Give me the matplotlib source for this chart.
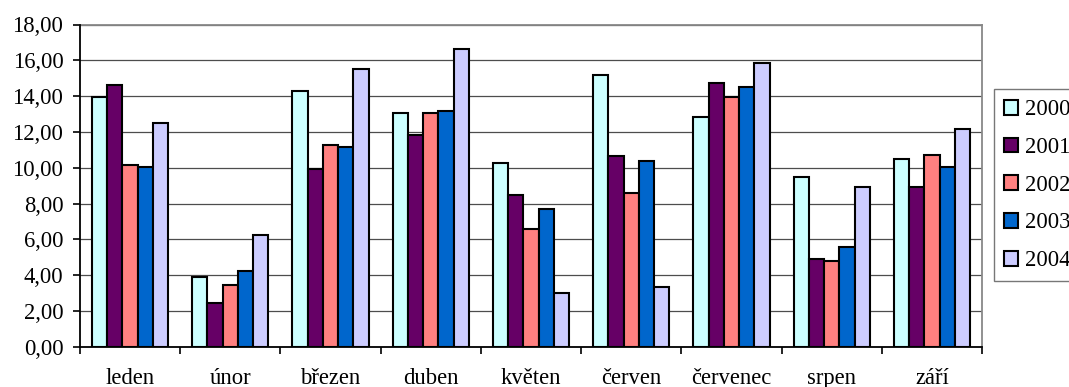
import numpy as np
import matplotlib
matplotlib.use("Agg")
import matplotlib.pyplot as plt
from matplotlib.ticker import FuncFormatter, FixedLocator

months = ["leden", "únor", "březen", "duben", "květen", "červen", "červenec", "srpen", "září"]
years = ["2000", "2001", "2002", "2003", "2004"]

v2000 = [13.97, 3.91, 14.30, 13.06, 10.26, 15.18, 12.85, 9.48, 10.49]
v2001 = [14.62, 2.46, 9.93, 11.84, 8.49, 10.64, 14.75, 4.92, 8.92]
v2002 = [10.17, 3.46, 11.28, 13.06, 6.59, 8.60, 13.97, 4.80, 10.71]
v2003 = [10.06, 4.23, 11.17, 13.18, 7.69, 10.37, 14.51, 5.59, 10.04]
v2004 = [12.50, 6.24, 15.51, 16.63, 3.00, 3.35, 15.87, 8.92, 12.18]

series = [v2000, v2001, v2002, v2003, v2004]
colors = ["#CCFFFF", "#660066", "#FF8080", "#0066CC", "#CCCCFF"]

plt.rcParams["font.family"] = ["Liberation Serif", "DejaVu Serif"]
plt.rcParams["font.size"] = 16.3

fig = plt.figure(figsize=(10.69, 3.87), dpi=100)
ax = fig.add_axes([80 / 1069, 1 - 346.7 / 387, 902 / 1069, (346.7 - 24.5) / 387])

n = len(series)
bw = 0.152
x = np.arange(len(months))
for i, (vals, c, lab) in enumerate(zip(series, colors, years)):
    off = (i - (n - 1) / 2) * bw
    ax.bar(x + off, vals, width=bw, color=c, edgecolor="black", linewidth=1.5,
           label=lab, zorder=3)

ax.set_xlim(-0.5, len(months) - 0.5)
ax.set_ylim(0, 18)
ax.set_yticks(np.arange(0, 19, 2))
ax.yaxis.set_major_formatter(FuncFormatter(lambda v, p: f"{v:.2f}".replace(".", ",")))
ax.yaxis.grid(True, color="#4d4d4d", linewidth=0.9, zorder=0)
ax.set_axisbelow(True)

# category boundaries carry the tick marks, labels sit at the centres
ax.xaxis.set_major_locator(FixedLocator(np.arange(-0.5, len(months), 1.0)))
ax.xaxis.set_major_formatter(FuncFormatter(lambda v, p: ""))
ax.xaxis.set_minor_locator(FixedLocator(x))
ax.set_xticklabels(months, minor=True)
ax.tick_params(axis="x", which="major", length=5, width=1.2, direction="out", color="black")
ax.tick_params(axis="x", which="minor", length=0, pad=15)
ax.tick_params(axis="y", length=5, width=1.2, direction="out", pad=7)

for s in ("left", "bottom"):
    ax.spines[s].set_color("black")
    ax.spines[s].set_linewidth(1.3)
    ax.spines[s].set_zorder(4)
for s in ("top", "right"):
    ax.spines[s].set_color("#888888")
    ax.spines[s].set_linewidth(1.3)

leg = fig.legend(loc="upper left", bbox_to_anchor=(994 / 1069, 1 - 89 / 387),
                 bbox_transform=fig.transFigure, borderaxespad=0,
                 frameon=True, fancybox=False, edgecolor="#555555",
                 handlelength=0.63, handleheight=0.63, handletextpad=0.3,
                 labelspacing=0.74, borderpad=0.45)
leg.get_frame().set_linewidth(1.0)
for h in leg.legend_handles:
    h.set_linewidth(1.5)

fig.savefig("out.png", dpi=100)
